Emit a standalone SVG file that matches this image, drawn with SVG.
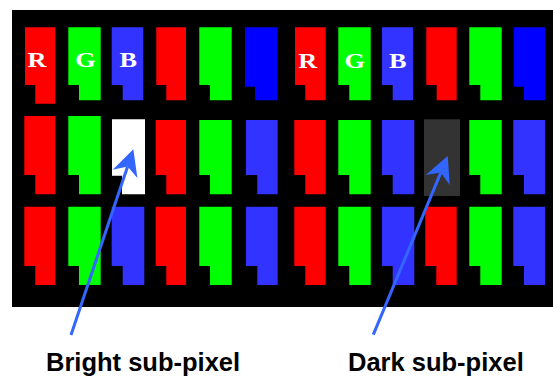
<svg xmlns="http://www.w3.org/2000/svg" width="553" height="377" viewBox="0 0 553 377">
<style>
.r{fill:#ff0000}.g{fill:#00ff00}.b{fill:#3333ff}.db{fill:#0000ff}.w{fill:#ffffff}.k{fill:#333333}
.lt{font-family:"Times New Roman","Liberation Serif",serif;font-weight:bold;font-size:21px;fill:#ffffff;text-anchor:middle}
.lbl{font-family:Arial,"Liberation Sans",sans-serif;font-weight:bold;font-size:25.5px;fill:#000000}
.arr{stroke:#3366ff;stroke-width:3;fill:none}
</style>
<defs>
<marker id="ah" markerUnits="userSpaceOnUse" viewBox="-10 -15 30 30" markerWidth="30" markerHeight="30" refX="0" refY="0" orient="auto" overflow="visible">
<path d="M18,0 L-8,-13 L0,0 L-8,13 Z" fill="#3366ff"/>
</marker>
</defs>
<rect id="panel" x="12" y="10" width="541" height="297" fill="#000000"/>
<g id="row1">
<path id="r1c1" class="r" d="M25,27.3H55.3V103.7H35.3V85H25Z"/>
<path id="r1c2" class="g" d="M68.3,27.3H100.7V100.3H79V85H68.3Z"/>
<path id="r1c3" class="b" d="M111.7,27.3H143.3V100.3H122.7V85H111.7Z"/>
<path id="r1c4" class="r" d="M156.3,27.3H186V100.3H166.3V85H156.3Z"/>
<path id="r1c5" class="g" d="M199.3,27.3H231.7V100.3H210V85H199.3Z"/>
<path id="r1c6" class="db" d="M245,27.3H277.7V100.3H255V86.7H245Z"/>
<path id="r1c7" class="r" d="M295,27.3H325.7V100.3H305.3V85H295Z"/>
<path id="r1c8" class="g" d="M338.3,27.3H370.7V100.3H349.3V85H338.3Z"/>
<path id="r1c9" class="b" d="M382,27.3H413V100.3H392.7V85H382Z"/>
<path id="r1c10" class="r" d="M426.3,27.3H456.7V100.3H436.7V85H426.3Z"/>
<path id="r1c11" class="g" d="M469.3,27.3H501.7V100.3H480.3V85H469.3Z"/>
<path id="r1c12" class="db" d="M513.7,27.3H545V100.3H524V86.7H513.7Z"/>
</g>
<g id="row2">
<path id="r2c1" class="r" d="M24.3,116H55.3V194.3H35.3V175H24.3Z"/>
<path id="r2c2" class="g" d="M68.3,116H100.7V194.3H79V175H68.3Z"/>
<path id="r2c3" class="w" d="M112,119.3H145V194.3H122V175.7H112Z"/>
<path id="r2c4" class="r" d="M155.7,120H186V194.3H166.3V175H155.7Z"/>
<path id="r2c5" class="g" d="M199.3,120H231.7V194.3H210V175H199.3Z"/>
<path id="r2c6" class="b" d="M246,120H277.7V194.3H257.3V175H246Z"/>
<path id="r2c7" class="r" d="M294.3,120H325.7V194.3H305.3V175H294.3Z"/>
<path id="r2c8" class="g" d="M338.3,120H370.7V194.3H349.3V175H338.3Z"/>
<path id="r2c9" class="b" d="M382,120H414.3V194.3H392.7V175H382Z"/>
<rect id="r2c10" class="k" x="424" y="119.3" width="36" height="76.7"/>
<path id="r2c11" class="g" d="M469.3,120H501.7V194.3H480.3V175H469.3Z"/>
<path id="r2c12" class="b" d="M513.3,120H545V194.3H524V175H513.3Z"/>
</g>
<g id="row3">
<path id="r3c1" class="r" d="M24.3,206.7H55.3V285H35.3V266H24.3Z"/>
<path id="r3c2" class="g" d="M68.3,206.7H100.7V285H79V266H68.3Z"/>
<path id="r3c3" class="b" d="M111.7,206.7H144.3V285H122.7V266H111.7Z"/>
<path id="r3c4" class="r" d="M155.7,206.7H186V285H166.3V266H155.7Z"/>
<path id="r3c5" class="g" d="M199.3,206.7H231.7V285H210V266H199.3Z"/>
<path id="r3c6" class="b" d="M246,206.7H277.7V285H257.3V266H246Z"/>
<path id="r3c7" class="r" d="M294.3,206.7H325.7V285H305.3V266H294.3Z"/>
<path id="r3c8" class="g" d="M338.3,206.7H370.7V285H349.3V266H338.3Z"/>
<path id="r3c9" class="b" d="M382,206.7H414.3V285H392.7V266H382Z"/>
<path id="r3c10" class="r" d="M425.3,206.7H456.7V285H436.3V266H425.3Z"/>
<path id="r3c11" class="g" d="M469.3,206.7H501.7V285H480.3V266H469.3Z"/>
<path id="r3c12" class="b" d="M513.3,206.7H545V285H524V266H513.3Z"/>
</g>
<g id="letters">
<text class="lt" transform="translate(37,67.3) scale(1.25,1)">R</text>
<text class="lt" transform="translate(85.5,67.3) scale(1.25,1)">G</text>
<text class="lt" transform="translate(128.3,67.3) scale(1.25,1)">B</text>
<text class="lt" transform="translate(307.7,67.5) scale(1.25,1)">R</text>
<text class="lt" transform="translate(354.8,67.5) scale(1.25,1)">G</text>
<text class="lt" transform="translate(397.7,67.5) scale(1.25,1)">B</text>
</g>
<g id="connectors">
<line id="arrow-bright" class="arr" x1="71" y1="335" x2="127.6" y2="166.4" marker-end="url(#ah)"/>
<line id="arrow-dark" class="arr" x1="373.3" y1="334.7" x2="440.8" y2="172.6" marker-end="url(#ah)"/>
</g>
<g id="label-bright"><text class="lbl" x="46" y="371">Bright sub-pixel</text></g>
<g id="label-dark"><text class="lbl" x="348" y="371">Dark sub-pixel</text></g>
</svg>
